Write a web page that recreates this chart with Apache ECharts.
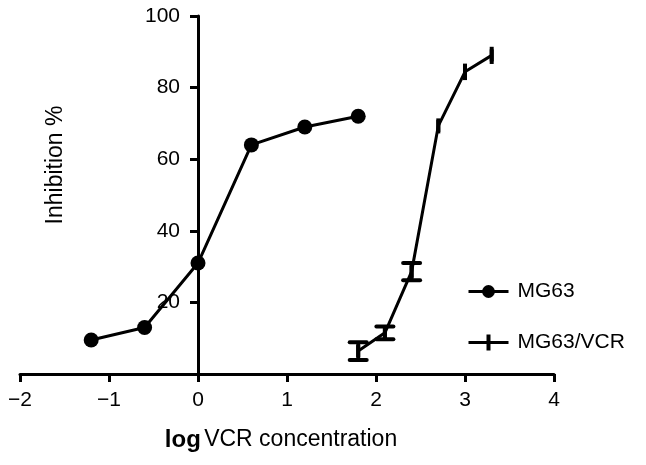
<!DOCTYPE html>
<html>
<head>
<meta charset="utf-8">
<script src="https://cdn.jsdelivr.net/npm/echarts@6/dist/echarts.min.js"></script>
<style>html,body{margin:0;padding:0;background:#fff}#c{width:646px;height:465px}</style>
</head>
<body>
<div id="c"></div>
<script>
var mg63X = [-1.2, -0.6, 0, 0.6, 1.2, 1.8];
var mg63Y = [9.5, 13, 31, 64, 69, 72];
var vcrX = [1.8, 2.1, 2.4, 2.7, 3.0, 3.3];
var vcrY = [6.4, 11.5, 28.6, 69.3, 84.4, 89];
var vcrErr = [2.5, 1.8, 2.4, 2.1, 2.3, 2.4];
var xTicks = [-2, -1, 0, 1, 2, 3, 4];
var yTicks = [20, 40, 60, 80, 100];

var FONT = 'Liberation Sans, Arial, Helvetica, sans-serif';
var chart = echarts.init(document.getElementById('c'));
function zip(a, b) { return a.map(function (v, i) { return [v, b[i]]; }); }
var errData = vcrX.map(function (x, i) { return [x, vcrY[i] - vcrErr[i], vcrY[i] + vcrErr[i]]; });

var GL = 20, GW = 534;
var yOffset = -GW * (0 - xTicks[0]) / (xTicks[xTicks.length - 1] - xTicks[0]);

chart.setOption({
  animation: false,
  grid: { left: GL, width: GW, top: 16, bottom: 91, containLabel: false, outerBoundsMode: 'none' },
  xAxis: {
    type: 'value', min: xTicks[0], max: xTicks[xTicks.length - 1], interval: 1,
    splitLine: { show: false },
    axisLine: { onZero: false, lineStyle: { color: '#000', width: 3 } },
    axisTick: { length: 8, lineStyle: { color: '#000', width: 3 } },
    axisLabel: { color: '#000', fontSize: 21, fontFamily: FONT, margin: 16,
      formatter: function (v) { return v < 0 ? '\u2212' + Math.abs(v) : String(v); } }
  },
  yAxis: {
    type: 'value', min: 0, max: yTicks[yTicks.length - 1], interval: 20,
    offset: yOffset,
    splitLine: { show: false },
    axisLine: { onZero: false, lineStyle: { color: '#000', width: 3 } },
    axisTick: { length: 8, lineStyle: { color: '#000', width: 3 } },
    axisLabel: { color: '#000', fontSize: 21, fontFamily: FONT, margin: 18, showMinLabel: false }
  },
  legend: {
    orient: 'vertical', left: 462, top: 276, itemGap: 30, itemWidth: 40, itemHeight: 16,
    lineStyle: { width: 3 },
    textStyle: { color: '#000', fontSize: 21, fontFamily: FONT, padding: [0, 0, 0, 4] },
    data: [
      { name: 'MG63' },
      { name: 'MG63/VCR', icon: 'path://M0,6.5L40,6.5L40,9.5L0,9.5Z M18,0L22,0L22,16L18,16Z' }
    ]
  },
  graphic: [
    { type: 'text', x: 56, y: 165, rotation: Math.PI / 2,
      style: { text: 'Inhibition %', fill: '#000', font: '23px ' + FONT, align: 'center', verticalAlign: 'middle' } },
    { type: 'text', x: 281, y: 440,
      style: { text: '{a|log} {b|VCR concentration}', align: 'center', verticalAlign: 'middle',
        rich: { a: { fontSize: 24, fontFamily: FONT, fontWeight: 'bold', fill: '#000' },
                b: { fontSize: 23, fontFamily: FONT, fill: '#000' } } } }
  ],
  series: [
    { name: 'MG63', type: 'line', data: zip(mg63X, mg63Y), symbol: 'circle', symbolSize: 15,
      lineStyle: { color: '#000', width: 3 }, itemStyle: { color: '#000' } },
    { name: 'MG63/VCR', type: 'line', data: zip(vcrX, vcrY), symbol: 'rect', symbolSize: [4, 12],
      lineStyle: { color: '#000', width: 3 }, itemStyle: { color: '#000' } },
    { name: 'err', type: 'custom', data: errData, z: 3,
      renderItem: function (params, api) {
        var x = api.value(0);
        var lo = api.coord([x, api.value(1)]);
        var hi = api.coord([x, api.value(2)]);
        var children = [{ type: 'line', shape: { x1: lo[0], y1: lo[1], x2: hi[0], y2: hi[1] },
          style: { stroke: '#000', lineWidth: 4 } }];
        if (params.dataIndex < 3) {
          var w = 8.5;
          children.push({ type: 'line', shape: { x1: lo[0] - w, y1: lo[1], x2: lo[0] + w, y2: lo[1] }, style: { stroke: '#000', lineWidth: 4, lineCap: 'round' } });
          children.push({ type: 'line', shape: { x1: hi[0] - w, y1: hi[1], x2: hi[0] + w, y2: hi[1] }, style: { stroke: '#000', lineWidth: 4, lineCap: 'round' } });
        }
        return { type: 'group', children: children };
      } }
  ]
});
</script>
</body>
</html>
